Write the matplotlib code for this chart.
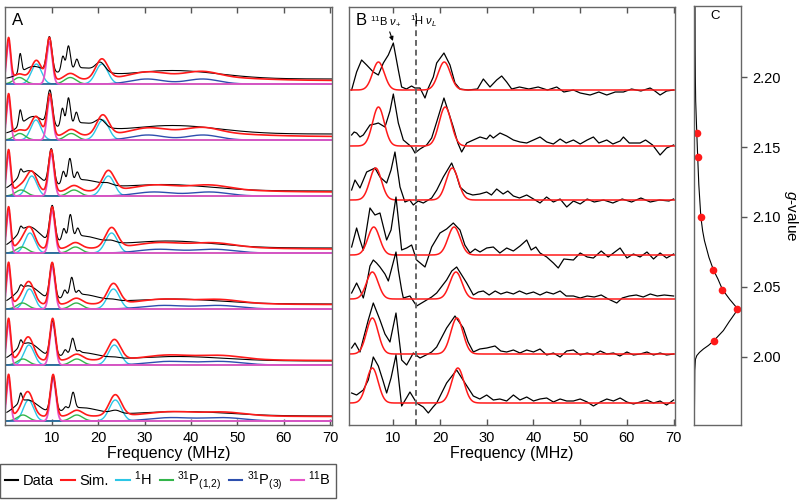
import numpy as np
import matplotlib.pyplot as plt
from matplotlib.lines import Line2D

plt.rcParams['font.family'] = 'Liberation Sans'
plt.rcParams['mathtext.fontset'] = 'custom'
plt.rcParams['mathtext.rm'] = 'Liberation Sans'
plt.rcParams['mathtext.it'] = 'Liberation Sans:italic'

# field positions of the seven spectra (top trace first) and EPR intensity there
g_values = [2.160, 2.143, 2.100, 2.062, 2.048, 2.034, 2.011]
g_intens = [0.04, 0.06, 0.13, 0.41, 0.61, 0.94, 0.42]

# panel C: field-swept EPR absorption
epr_g = [2.251, 2.22, 2.20, 2.183, 2.16, 2.143, 2.123, 2.10, 2.09, 2.083, 2.071, 2.062,
         2.0555, 2.048, 2.041, 2.036, 2.034, 2.0305, 2.025, 2.0186, 2.0114, 2.008,
         2.0055, 2.003, 2.0007, 1.998, 1.99, 1.97, 1.951]
epr_i = [0.0, 0.003, 0.008, 0.015, 0.04, 0.06, 0.085, 0.13, 0.17, 0.21, 0.31, 0.41,
         0.51, 0.61, 0.77, 0.90, 0.95, 0.88, 0.76, 0.63, 0.42, 0.30,
         0.19, 0.10, 0.04, 0.01, -0.005, -0.01, -0.015]

# ---- panel A: simulation components (MHz, amplitude) ----
offA = [341, 285, 229, 172, 116, 60, 4]
b11_lo = [0.7, 0.7, 0.7, 0.7, 0.7, 0.7, 0.7]
b11_hi = [9.5, 9.6, 9.9, 10.1, 10.1, 10.2, 10.3]
b11_amp = [42, 42, 42, 42, 42, 42, 42]
h1_lo = [6.7, 6.6, 5.7, 5.3, 5.2, 5.1, 5.0]
h1_hi = [20.8, 21.0, 22.2, 22.9, 23.3, 23.5, 23.7]
h1_amp = [20, 20, 20, 20, 20, 20, 21]
p12_lo = [3.0, 3.1, 3.4, 3.6, 3.7, 3.8, 3.8]
p12_hi = [14.0, 14.2, 14.8, 15.1, 15.3, 15.4, 15.4]
p12_amp = [6.5, 6.5, 6.0, 6.0, 6.0, 6.0, 6.0]
p3_lo = [30.5, 30.7, 32.0, 33.0, 34.0, 35.0, 35.5]
p3_hi = [42.5, 42.6, 44.0, 45.0, 46.0, 46.5, 47.0]
p3_amp = [5.0, 5.0, 4.0, 3.7, 3.5, 3.5, 3.3]
p3_wid = [3.5, 3.5, 4.0, 4.3, 4.5, 4.5, 4.5]
sim_flat = [3.5, 3.5, 4.0, 4.0, 4.5, 4.5, 4.5]
sim_hump = [4.5, 4.5, 3.5, 3.0, 2.0, 2.0, 1.5]

# ---- panel A: experimental trace features ----
datA_floor = [5, 6, 5, 5, 5, 4, 5]
datA_low_c = [6.0, 6.0, 5.0, 5.0, 4.8, 4.8, 4.6]
datA_low_h = [12, 17, 20, 21, 18, 18, 16]
datA_spk_c = [3.2, 3.2, 3.3, 3.3, 3.3, 3.3, 3.3]
datA_spk_h = [19, 15, 6, 5, 4, 6, 9]
datA_b_h = [35, 35, 36, 36, 36, 36, 36]
datA_124_c = [12.4, 12.3, 12.5, 12.6, 12.8, 12.9, 13.0]
datA_124_h = [15, 18, 12, 11, 7, 5, 3]
datA_136_c = [13.6, 13.6, 13.9, 14.0, 14.3, 14.5, 14.6]
datA_136_h = [24, 27, 23, 23, 18, 15, 16]
datA_154_c = [15.4, 15.3, 15.5, 15.6, 15.8, 15.9, 16.0]
datA_154_h = [9, 11, 8, 8, 4, 2, 0]
datA_plat_h = [10, 10, 10, 11, 9, 8, 8]
datA_h1_c = [20.5, 20.5, 22.0, 22.8, 23.2, 23.4, 23.8]
datA_h1_h = [9, 7, 2, 2, 1, 1, 3]
datA_brd_c = [36, 36, 34, 35, 36, 37, 38]
datA_brd_h = [8.5, 8.5, 6.5, 7, 5, 4.5, 4.5]

# ---- panel B: 1H-only simulation and experimental traces ----
offB = [335, 279, 225, 170, 126, 71, 22]
simB_lo = [6.8, 6.8, 6.2, 5.8, 5.5, 5.5, 5.5]
simB_hi = [20.9, 21.1, 22.6, 23.0, 23.4, 23.6, 23.8]
simB_amp = [28, 39, 32, 28, 27, 36, 35]

datB_f = [
    [1.06, 2.13, 3.2, 4.28, 5.7, 6.78, 7.85, 8.92, 9.99, 11.06, 11.77, 12.8, 13.9, 14.6, 15.7,
     16.77, 17.48, 18.55, 19.27, 20.83, 22.12, 23.19, 24.26, 26, 28, 29.26, 30.69, 32.12, 33.19,
     34.26, 35.33, 37, 39, 41, 43, 44.98, 46.5, 48.55, 50, 52.12, 54, 55.69, 57.5, 59.26, 61,
     63, 64.97, 66, 67.11, 68.5, 70],
    [1.06, 1.6, 2.13, 2.85, 3.56, 4.99, 6.06, 6.78, 8.2, 9.27, 9.99, 11.06, 12.13, 13.91, 14.63,
     15.7, 17.12, 18.2, 19.27, 20.83, 22.83, 23.8, 24.62, 25.7, 27.12, 28.55, 29.98, 30.69, 31.4,
     32.83, 34.26, 35.69, 37.12, 38.55, 40, 41.4, 42.83, 44.26, 45.7, 47, 48.55, 50, 51.5, 52.83,
     54, 55.69, 57, 58.55, 59.26, 60.5, 62.83, 64, 65.5, 67.11, 68.5, 70],
    [1.06, 1.78, 2.85, 4.28, 6.06, 7.13, 8.56, 9.5, 10.34, 11.42, 12.48, 13.5, 14.27, 15.3, 16.41,
     18.2, 19.3, 20.69, 22.48, 23.5, 24.26, 25.7, 27, 28.5, 29.98, 31, 32.12, 33.5, 34.5, 35.69,
     37, 38.55, 40, 41.4, 42.8, 44.26, 45.7, 47.12, 48.55, 50, 51.5, 53, 55, 57, 59, 61, 63, 65,
     67, 69, 70],
    [1.06, 2.13, 2.85, 3.56, 4.99, 6.06, 7.13, 8.56, 9.5, 10.56, 11.77, 12.84, 13.91, 14.98, 16.77,
     17.5, 18.2, 19.98, 21.4, 22.83, 24.26, 25.3, 26.4, 27.5, 28.55, 29.98, 31.4, 32.8, 34.26,
     35.69, 37.12, 38.55, 39.5, 40.5, 41.4, 42.83, 44.26, 45.3, 46.5, 48.55, 50, 51.5, 52.83, 54.5,
     56, 58.55, 60, 61.4, 62.83, 64.3, 65.7, 67.11, 68.5, 70],
    [1.06, 2.13, 2.85, 3.56, 4.28, 4.99, 5.7, 6.4, 7.13, 8.2, 8.92, 9.6, 10.56, 11.06, 11.77, 12.13,
     13.55, 14.98, 16.77, 18.2, 19.27, 21.4, 22.5, 23.55, 24.5, 25.7, 27.12, 28.2, 29.26, 30.5,
     31.8, 33, 34.3, 35.7, 37, 38.5, 40, 41.4, 42.8, 44.26, 45.7, 47, 48.55, 50, 51.5, 53, 54.5,
     56, 57.83, 59, 60.5, 62, 63.5, 65, 66.5, 68, 70],
    [1.06, 1.78, 2.85, 3.56, 4.63, 5.7, 7.13, 8.2, 9.27, 10.56, 11.77, 12.84, 14.27, 15.7, 17,
     18.2, 19.27, 21.4, 23.19, 24.98, 26, 27.12, 28.5, 30, 31.76, 33, 34.26, 35.7, 37.1, 38.55,
     40, 41.4, 42.83, 44.26, 45.7, 47.1, 48.55, 50, 51.5, 52.83, 54.3, 55.7, 57.12, 58.5, 60,
     61.4, 62.83, 64.3, 65.7, 67.11, 68.5, 70],
    [1.06, 2.13, 3.56, 4.63, 5.7, 6.78, 7.8, 8.56, 9.5, 10.56, 11.77, 12.8, 13.55, 14.98, 16.4,
     17.48, 18.5, 19.27, 21.4, 23.55, 25.33, 27.12, 28.5, 29.98, 31.4, 32.8, 34.26, 35.7, 37.1,
     38.55, 40, 41.4, 42.83, 44.26, 45.7, 47.1, 48.55, 50, 51.5, 52.83, 54.3, 55.7, 57.12, 58.55,
     60, 61.4, 62.83, 64.3, 65.7, 67.11, 68.5, 70],
]
datB_y = [
    [0, 18, 30, 25, 18, 15, 27, 35, 47, 20, 3, 1, 4, 2, 2,
     -8, 2, 13, 27, 37, 25, 7, 1, 0, 1, 11, 3, 10, 14,
     8, 1, 3, 1, 3, 0, 3, -2, 0, -3, -5, -2, -5, -2, -2, 1,
     -1, 2, -1, -5, -1, 0],
    [11, 14, 13, 9, 11, 21, 22, 23, 19, 35, 52, 23, 6, -1, -7,
     -3, 1, 8, 24, 48, 19, 3, -6, 3, 6, 9, 7, 11, 8,
     13, 10, 6, 4, 3, 6, 9, 4, 2, 7, 3, 6, 2, 6, 9,
     3, 6, 2, 5, 9, 3, 3, 6, 1, -9, -2, 1],
    [10, 20, 12, 28, 32, 23, 17, 30, 48, 13, -2, 0, -5, -1, -3,
     2, 10, 23, 37, 25, 13, 7, 5, 6, 8, 5, 11, 6, 9, 4,
     2, 5, 1, -3, 3, -2, 1, -7, -1, -4, 1, -2, 0, -3, 1, -2, 2, -2,
     0, -1, 1],
    [8, 27, 15, 5, 47, 40, 42, 15, 25, 58, 5, 7, 10, -5, -12,
     -2, 8, 22, 26, 32, 25, 10, 2, 6, 3, 7, 8, 2, 7,
     4, 9, 15, 5, 8, 2, -2, -8, -13, -4, -5, 2, -2, -3, 4,
     -2, 7, -3, 1, -2, 3, -4, 2, -3, 1],
    [6, 16, 9, 1, 15, 33, 39, 36, 32, 25, 18, 30, 47, 29, 9, 1,
     3, -7, -2, 2, 6, 19, 28, 32, 25, 16, 4, 7, 8, 4,
     8, 5, 7, 5, 8, 5, 7, 4, 7, 5, 8, 3, 3, 1, 3, 2, 4,
     0, -4, 1, 3, 4, 2, 5, 3, 4, 3],
    [6, 11, 2, 15, 34, 51, 34, 20, 12, 41, -6, -11, 1, -4, -1,
     2, 7, 26, 38, 26, 12, 2, 5, 6, 8, 3, 2, 4, 1, 4,
     2, 5, -1, 1, -3, 3, 4, -1, 1, -1, 3, 0, 1, -2, 2,
     -1, 0, 2, -1, 1, -1, 0],
    [10, 8, 13, 23, 46, 37, 22, 10, 25, 48, -3, 5, 11, 0, -4,
     -10, -4, 0, 20, 33, 20, 7, 4, 8, 3, 4, 2, 8, 3,
     6, 2, 4, 5, 1, 4, 2, 2, 4, 1, -3, 1, 4, 2, 5,
     1, -1, 1, 3, 0, 2, -2, 3],
]

tick_vals = [10, 20, 30, 40, 50, 60, 70]

c_data = 'black'
c_sim = '#ff1a1a'
c_h = '#2cc6e6'
c_p12 = '#33b54a'
c_p3 = '#2d4fae'
c_b = '#e654c8'


def gauss(f, c, h, w):
    return h * np.exp(-0.5 * ((f - c) / w) ** 2)


fig = plt.figure(figsize=(8, 5.03), dpi=100)
axA = fig.add_axes([5 / 800, 78 / 503, 327 / 800, 418 / 503])
axB = fig.add_axes([349 / 800, 78 / 503, 326 / 800, 418 / 503])
axC = fig.add_axes([694 / 800, 78 / 503, 47 / 800, 419 / 503])

f = np.linspace(0, 70.4, 1500)
fd = f[f >= 0.3]

for i in range(7):
    o = offA[i]
    ch = gauss(f, h1_lo[i], h1_amp[i], 1.1) + gauss(f, h1_hi[i], h1_amp[i], 1.3)
    cp12 = gauss(f, p12_lo[i], p12_amp[i], 1.2) + gauss(f, p12_hi[i], p12_amp[i], 1.25)
    cp3 = gauss(f, p3_lo[i], p3_amp[i], p3_wid[i]) + gauss(f, p3_hi[i], p3_amp[i], p3_wid[i])
    cb = gauss(f, b11_lo[i], b11_amp[i], 0.45) + gauss(f, b11_hi[i], b11_amp[i], 0.6)
    sim = ch + cp12 + cp3 + cb + sim_flat[i] + gauss(f, 38, sim_hump[i], 12)

    dat = (datA_floor[i] + gauss(fd, datA_low_c[i], datA_low_h[i], 2.5)
           + gauss(fd, datA_spk_c[i], datA_spk_h[i], 0.3)
           + gauss(fd, b11_hi[i], datA_b_h[i], 0.55)
           + gauss(fd, datA_124_c[i], datA_124_h[i], 0.35)
           + gauss(fd, datA_136_c[i], datA_136_h[i], 0.4)
           + gauss(fd, datA_154_c[i], datA_154_h[i], 0.35)
           + gauss(fd, 16, datA_plat_h[i], 4)
           + gauss(fd, datA_h1_c[i], datA_h1_h[i], 1.0)
           + gauss(fd, datA_brd_c[i], datA_brd_h[i], 10))

    axA.plot(f, o + ch, color=c_h, lw=1)
    axA.plot(f, o + cp12, color=c_p12, lw=1)
    axA.plot(f, o + cp3, color=c_p3, lw=1)
    axA.plot(f, o + cb, color=c_b, lw=1.3)
    axA.plot(fd, o + dat, color=c_data, lw=0.8)
    axA.plot(f, o + sim, color=c_sim, lw=1.2)

for i in range(7):
    o = offB[i]
    simb = gauss(f, simB_lo[i], simB_amp[i], 1.25) + gauss(f, simB_hi[i], simB_amp[i], 1.3)
    axB.plot(datB_f[i], o + np.array(datB_y[i]), color=c_data, lw=0.9)
    axB.plot(f[f >= 0.5], o + simb[f >= 0.5], color=c_sim, lw=1.1)

axB.axvline(14.9, ymin=0, ymax=0.985, color='#666666', ls=(0, (3, 2)), lw=1.4)
axB.annotate(r'$^{11}$B $\nu_{+}$', xy=(9.9, 384), xytext=(8.4, 404), fontsize=8,
             ha='center', va='center',
             arrowprops=dict(arrowstyle='-|>', color='black', lw=0.8, mutation_scale=6,
                             shrinkA=1, shrinkB=0))
axB.text(16.5, 404, r'$^{1}$H $\nu_{L}$', fontsize=8, ha='center', va='center')

for ax, xl in [(axA, (-0.07, 70.4)), (axB, (0.5, 70.3))]:
    ax.set_xlim(xl)
    ax.set_ylim(0, 418)
    ax.set_yticks([])
    ax.set_xticks(tick_vals)
    ax.tick_params(axis='x', direction='in', top=True, length=4, width=1,
                   color='#555555', labelsize=10.5, pad=4)
    ax.set_xlabel('Frequency (MHz)', fontsize=11.5, labelpad=1)
    for s in ax.spines.values():
        s.set_color('#666666')
        s.set_linewidth(1)

axA.text(0.02, 0.985, 'A', transform=axA.transAxes, fontsize=12, va='top', ha='left')
axB.text(0.02, 0.985, 'B', transform=axB.transAxes, fontsize=12, va='top', ha='left')

axC.plot(epr_i, epr_g, color='black', lw=0.8)
axC.plot(g_intens, g_values, 'o', color='#ff1a1a', ms=5.5, mec='none')
axC.set_xlim(-0.022, 1.022)
axC.set_ylim(1.951, 2.251)
axC.set_xticks([])
axC.set_yticks([2.00, 2.05, 2.10, 2.15, 2.20])
axC.set_yticklabels(['2.00', '2.05', '2.10', '2.15', '2.20'])
axC.yaxis.tick_right()
axC.yaxis.set_label_position('right')
axC.tick_params(axis='y', direction='out', length=4, width=1, color='#555555',
                labelsize=10.5, pad=4)
axC.set_ylabel(r'$g$-value', rotation=270, fontsize=11, labelpad=14)
for s in axC.spines.values():
    s.set_color('#666666')
    s.set_linewidth(1)
axC.text(0.45, 0.99, 'C', transform=axC.transAxes, fontsize=9.5, va='top', ha='center')

handles = [Line2D([], [], color=c, lw=1.5) for c in [c_data, c_sim, c_h, c_p12, c_p3, c_b]]
labels = ['Data', 'Sim.', r'$^{1}$H', r'$^{31}$P$_{(1{,}2)}$', r'$^{31}$P$_{(3)}$', r'$^{11}$B']
leg = fig.legend(handles, labels, loc='center', bbox_to_anchor=(168 / 800, 1 - 481 / 503),
                 ncol=6, frameon=True, fancybox=False, edgecolor='#333333', fontsize=10.5,
                 handlelength=0.9, handletextpad=0.3, columnspacing=0.55, borderpad=0.35,
                 borderaxespad=0)
leg.get_frame().set_linewidth(1)

fig.savefig('out.png', dpi=100)
